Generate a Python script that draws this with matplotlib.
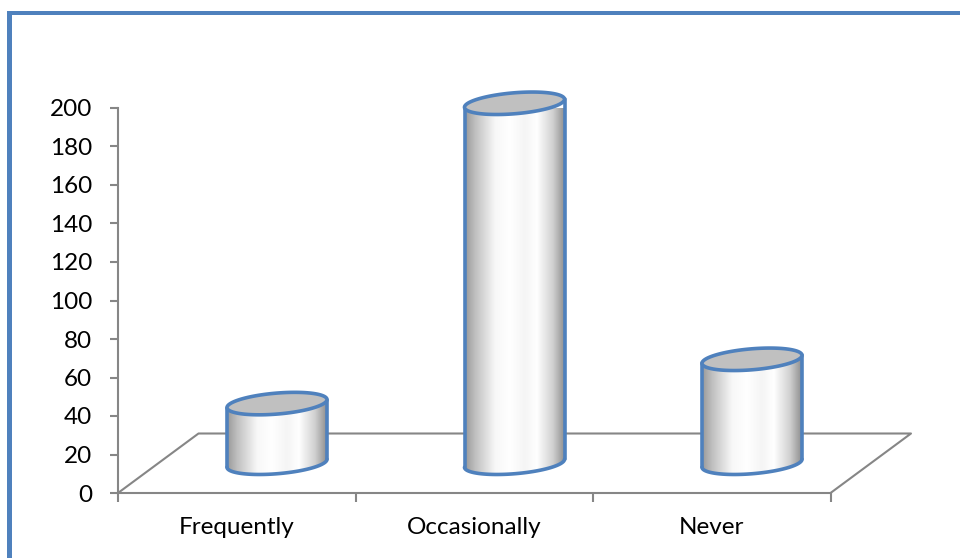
import numpy as np
import matplotlib
matplotlib.use("Agg")
import matplotlib.pyplot as plt
from matplotlib.patches import Polygon, Rectangle
from matplotlib.lines import Line2D

plt.rcParams['font.family'] = ['Lato', 'DejaVu Sans']

# Data
categories = ["Frequently", "Occasionally", "Never"]
values = [31, 187, 54]
y_ticks = list(range(0, 201, 20))

W, H = 960, 558
fig = plt.figure(figsize=(W / 100, H / 100), dpi=100)

# plot area in pixels
left_px, right_px = 118, 830.5
top_px, bottom_px = 108, 493
ax = fig.add_axes([left_px / W, (H - bottom_px) / H,
                   (right_px - left_px) / W, (bottom_px - top_px) / H])
ax.set_xlim(-0.5, 2.5)
ax.set_ylim(0, 200)

px_x = 3.0 / (right_px - left_px)      # x units per pixel
px_y = 200.0 / (bottom_px - top_px)    # y units per pixel

grey = "#868686"
blue = "#4F81BD"

# axes styling
for side in ("top", "right"):
    ax.spines[side].set_visible(False)
for side in ("left", "bottom"):
    ax.spines[side].set_color(grey)
    ax.spines[side].set_linewidth(1.5)

ax.set_yticks(y_ticks)
ax.set_yticklabels([str(v) for v in y_ticks])
ax.tick_params(axis="y", length=5.5, width=1.5, color=grey, pad=13,
               labelsize=17.5, labelcolor="black")

ax.set_xticks([-0.5, 0.5, 1.5, 2.5])
ax.set_xticklabels([])
ax.set_xticks(range(len(categories)), minor=True)
ax.set_xticklabels(categories, minor=True)
ax.tick_params(axis="x", which="major", length=6.5, width=1.5, color=grey)
ax.tick_params(axis="x", which="minor", length=0, pad=17,
               labelsize=17.5, labelcolor="black")

# floor (oblique depth offset)
dx = 80.5 * px_x
dy = 59.5 * px_y
x0, x1 = -0.5, 2.5
ax.add_line(Line2D([x0, x0 + dx, x1 + dx, x1], [0, dy, dy, 0],
                   color=grey, lw=1.5, clip_on=False, zorder=1))

# cylinder geometry
a = 50 * px_x      # half width
b = 10.5 * px_y    # ellipse half height
s = 4 * px_y       # slight tilt of ellipses
lw = 2.6

# horizontal shading across the cylinder body
stops = [0.0, 0.1, 0.3, 0.45, 0.6, 0.72, 0.88, 1.0]
levels = [0.6, 0.75, 0.97, 1.0, 0.96, 1.0, 0.82, 0.56]
ncol = 200
u = np.linspace(0, 1, ncol)
g = np.interp(u, stops, levels)
grad = np.dstack([g, g, g]).repeat(2, axis=0)


def cylinder(cx, base, top, z):
    t = np.linspace(np.pi, 2 * np.pi, 120)
    bx = cx + a * np.cos(t)
    by = base + b * np.sin(t) + s * np.cos(t)
    tx = cx + a * np.cos(t)
    ty = top + b * np.sin(t) + s * np.cos(t)
    body_x = np.concatenate([[cx - a], bx, [cx + a], tx[::-1]])
    body_y = np.concatenate([[top - s], by, [top + s], ty[::-1]])
    body = Polygon(np.column_stack([body_x, body_y]), closed=True,
                   facecolor="none", edgecolor="none", zorder=z)
    ax.add_patch(body)
    im = ax.imshow(grad, extent=[cx - a, cx + a, base - b - s - 1, top + b + s],
                   aspect="auto", interpolation="bilinear", zorder=z,
                   origin="lower")
    im.set_clip_path(body)
    im.set_clip_box(None)
    # outline of the sides and front bottom arc
    ax.add_line(Line2D([cx - a, cx - a], [top - s, base - s], color=blue,
                       lw=lw, zorder=z + 0.1, clip_on=False,
                       solid_capstyle="round"))
    ax.add_line(Line2D([cx + a, cx + a], [top + s, base + s], color=blue,
                       lw=lw, zorder=z + 0.1, clip_on=False,
                       solid_capstyle="round"))
    ax.add_line(Line2D(bx, by, color=blue, lw=lw, zorder=z + 0.1,
                       clip_on=False, solid_capstyle="round"))
    # top cap
    tt = np.linspace(0, 2 * np.pi, 240)
    cap = Polygon(np.column_stack([cx + a * np.cos(tt),
                                   top + b * np.sin(tt) + s * np.cos(tt)]),
                  closed=True, facecolor="#C0C0C0", edgecolor=blue,
                  lw=lw, zorder=z + 0.2, clip_on=False)
    ax.add_patch(cap)


for i, v in enumerate(values):
    cx = i + dx / 2
    base = dy / 2
    cylinder(cx, base, base + v, 3 + i)

ax.set_xlim(-0.5, 2.5)
ax.set_ylim(0, 200)

# chart border
fig.add_artist(Rectangle((7 / W, 0), 5 / W, (H - 11) / H,
                         transform=fig.transFigure, facecolor=blue,
                         edgecolor="none"))
fig.add_artist(Rectangle((7 / W, (H - 14.5) / H), (W - 7) / W, 3.5 / H,
                         transform=fig.transFigure, facecolor=blue,
                         edgecolor="none"))

fig.savefig("out.png", dpi=100)
